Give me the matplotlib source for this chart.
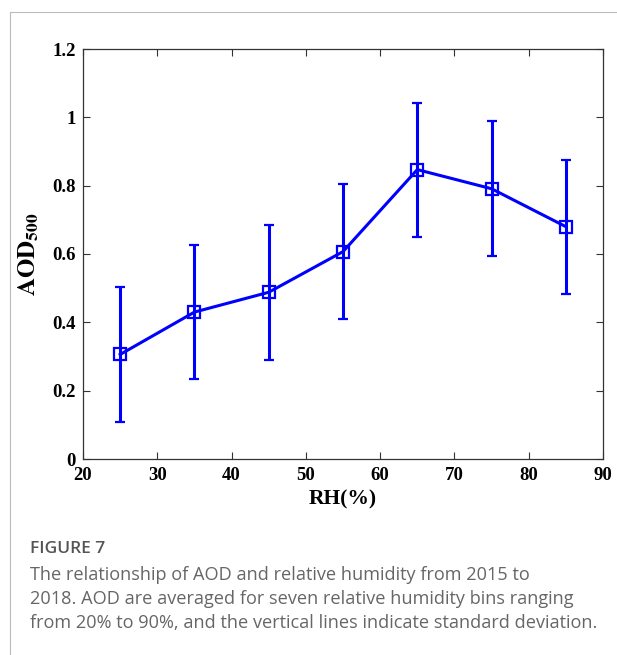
import matplotlib
matplotlib.use("Agg")
import matplotlib.pyplot as plt
from matplotlib.lines import Line2D

rh = [25, 35, 45, 55, 65, 75, 85]
aod_mean = [0.306, 0.430, 0.488, 0.607, 0.847, 0.791, 0.680]
aod_std = [0.197, 0.197, 0.197, 0.197, 0.196, 0.197, 0.196]
xticks = [20, 30, 40, 50, 60, 70, 80, 90]
yticks = [0, 0.2, 0.4, 0.6, 0.8, 1.0, 1.2]
yticklabels = ["0", "0.2", "0.4", "0.6", "0.8", "1", "1.2"]

plt.rcParams['mathtext.fontset'] = 'stix'

W, H = 617, 655
fig = plt.figure(figsize=(W / 100, H / 100), dpi=100)
ax = fig.add_axes([83 / W, 1 - 459 / H, 520 / W, 410 / H])

ax.errorbar(rh, aod_mean, yerr=aod_std, color='#0000ff', lw=2.2,
            elinewidth=2.2, capsize=3.4, capthick=2.2,
            marker='s', markersize=8.3, markerfacecolor='none',
            markeredgewidth=1.6, markeredgecolor='#0000ff')

ax.set_xlim(20, 90)
ax.set_ylim(0, 1.2)
ax.set_xticks(xticks)
ax.set_yticks(yticks)
ax.set_yticklabels(yticklabels)
ax.tick_params(direction='in', top=True, right=True, length=5, width=0.8,
               color='#333333')
ax.tick_params(axis='x', pad=6)
ax.tick_params(axis='y', pad=5)
for lab in ax.get_xticklabels() + ax.get_yticklabels():
    lab.set_fontfamily('Liberation Serif')
    lab.set_fontweight('bold')
    lab.set_fontsize(13.5)
for s in ax.spines.values():
    s.set_color('#333333')
    s.set_linewidth(0.9)

ax.set_xlabel('RH(%)', fontfamily='Liberation Serif', fontweight='bold',
              fontsize=15.5, labelpad=4)
ax.set_ylabel(r'$\mathbf{AOD_{500}}$', fontsize=18, labelpad=8)

# page borders
fig.add_artist(Line2D([10 / W, 10 / W], [0, 1 - 12 / H], transform=fig.transFigure,
                      color='#bbbbbb', lw=0.8))
fig.add_artist(Line2D([10 / W, 1], [1 - 12 / H, 1 - 12 / H], transform=fig.transFigure,
                      color='#bbbbbb', lw=0.8))

fig.text(30 / W, 1 - 549 / H, 'FIGURE 7', fontfamily='Open Sans', fontsize=12.5,
         color='#555555', va='center', ha='left', fontweight='semibold')
caption = ["The relationship of AOD and relative humidity from 2015 to",
           "2018. AOD are averaged for seven relative humidity bins ranging",
           "from 20% to 90%, and the vertical lines indicate standard deviation."]
for i, line in enumerate(caption):
    fig.text(30 / W, 1 - (575 + 24 * i) / H, line, fontfamily='Open Sans',
             fontsize=13.1, color='#666666', va='center', ha='left')

fig.savefig('out.png', dpi=100)
